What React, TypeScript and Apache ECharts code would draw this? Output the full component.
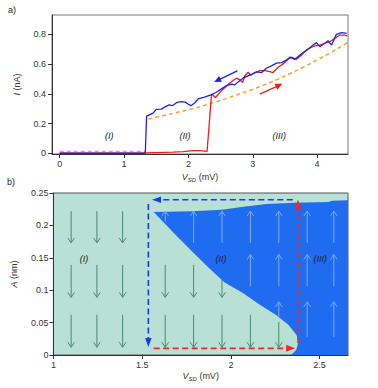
import React, { useEffect, useRef } from 'react';
import * as echarts from 'echarts';

// ---------- Panel a) data ----------
const topXTicks = [0, 1, 2, 3, 4];
const topYTicks = [0, 0.2, 0.4, 0.6, 0.8];

const blueSweep: number[][] = [
  [0, 0.0], [1.33, 0.0], [1.35, 0.25], [1.4, 0.26], [1.45, 0.27], [1.5, 0.295], [1.58, 0.297],
  [1.63, 0.31], [1.7, 0.325], [1.75, 0.32], [1.82, 0.342], [1.89, 0.348], [1.95, 0.344],
  [2.0, 0.33], [2.04, 0.32], [2.1, 0.34], [2.15, 0.365], [2.25, 0.378], [2.36, 0.395],
  [2.44, 0.412], [2.52, 0.435], [2.59, 0.455], [2.67, 0.465], [2.72, 0.46], [2.8, 0.49],
  [2.85, 0.505], [2.9, 0.515], [2.98, 0.53], [3.06, 0.547], [3.14, 0.543], [3.21, 0.572],
  [3.29, 0.588], [3.37, 0.606], [3.45, 0.61], [3.525, 0.628], [3.576, 0.646], [3.654, 0.632],
  [3.705, 0.65], [3.783, 0.677], [3.86, 0.7], [3.938, 0.728], [3.99, 0.744], [4.042, 0.717],
  [4.12, 0.74], [4.171, 0.757], [4.224, 0.728], [4.3, 0.8], [4.379, 0.811], [4.46, 0.807],
];

const redSweep: number[][] = [
  [0, 0.0], [1.33, 0.002], [1.76, 0.007], [1.92, 0.011], [2.07, 0.018], [2.18, 0.018],
  [2.29, 0.013], [2.36, 0.398], [2.42, 0.375], [2.49, 0.41], [2.567, 0.442], [2.644, 0.472],
  [2.71, 0.494], [2.748, 0.505], [2.8, 0.494], [2.842, 0.476], [2.877, 0.52], [2.93, 0.545],
  [2.97, 0.525], [3.033, 0.543], [3.11, 0.556], [3.188, 0.556], [3.266, 0.549], [3.317, 0.543],
  [3.395, 0.579], [3.472, 0.601], [3.55, 0.632], [3.602, 0.646], [3.68, 0.632], [3.758, 0.661],
  [3.835, 0.695], [3.913, 0.713], [3.964, 0.722], [4.042, 0.728], [4.12, 0.74], [4.197, 0.75],
  [4.275, 0.773], [4.352, 0.795], [4.43, 0.795], [4.466, 0.789],
];

const fitLow: number[][] = [[0, 0.012], [1.33, 0.012]];
const fitHigh: number[][] = [
  [1.38, 0.23], [1.6, 0.252], [1.8, 0.272], [2.0, 0.293], [2.2, 0.316], [2.4, 0.342],
  [2.6, 0.37], [2.8, 0.4], [3.0, 0.43], [3.2, 0.463], [3.4, 0.5], [3.6, 0.54], [3.8, 0.582],
  [4.0, 0.628], [4.2, 0.675], [4.4, 0.725], [4.48, 0.748],
];

// sweep direction arrows [x1, y1, x2, y2]
const topBlueArrow: number[][] = [[2.76, 0.554, 2.4, 0.48]];
const topRedArrow: number[][] = [[3.11, 0.398, 3.46, 0.467]];
const topRegionLabels: (number | string)[][] = [[0.77, 0.119, '(I)'], [1.946, 0.119, '(II)'], [3.41, 0.119, '(III)']];

// ---------- Panel b) data ----------
const botXTicks = [1, 1.5, 2, 2.5];
const bistableRegion: number[][] = [
  [1.565, 0.2206], [1.78, 0.222], [1.95, 0.224], [2.05, 0.228], [2.2, 0.233], [2.36, 0.235],
  [2.55, 0.236], [2.57, 0.238], [2.66, 0.239], [2.66, 0], [2.34, 0], [2.368, 0.0077],
  [2.381, 0.0206], [2.37, 0.031], [2.325, 0.0464], [2.255, 0.0618], [2.165, 0.0773],
  [2.07, 0.0954], [1.965, 0.112], [1.878, 0.134], [1.782, 0.1597], [1.688, 0.1855],
];

// quiver arrows [x, yTail, yHead]
const decayArrows: number[][] = [
  [1.1, 0.222, 0.173], [1.245, 0.222, 0.173], [1.39, 0.222, 0.173],
  [1.1, 0.139, 0.089], [1.245, 0.139, 0.089], [1.39, 0.139, 0.089], [1.63, 0.139, 0.089],
  [1.79, 0.139, 0.089], [1.95, 0.116, 0.089],
  [1.1, 0.062, 0.012], [1.245, 0.062, 0.012], [1.39, 0.062, 0.012], [1.63, 0.062, 0.012],
  [1.79, 0.062, 0.012], [1.95, 0.062, 0.012], [2.11, 0.062, 0.012], [2.27, 0.051, 0.012],
];
const growArrows: number[][] = [
  [1.63, 0.206, 0.222], [1.79, 0.173, 0.222], [1.95, 0.173, 0.222], [2.11, 0.173, 0.222],
  [2.27, 0.173, 0.222], [2.43, 0.173, 0.222], [2.58, 0.173, 0.222],
  [2.11, 0.106, 0.155], [2.27, 0.106, 0.155], [2.43, 0.106, 0.155], [2.58, 0.106, 0.155],
  [2.27, 0.059, 0.082], [2.43, 0.028, 0.082], [2.58, 0.028, 0.082],
];
// hysteresis path arrows [x1, y1, x2, y2]
const backwardPath: number[][] = [[2.349, 0.2395, 1.556, 0.2395], [1.535, 0.233, 1.535, 0.0125]];
const forwardPath: number[][] = [[1.565, 0.0103, 2.362, 0.0103], [2.378, 0.018, 2.378, 0.2395]];
const botRegionLabels: (number | string)[][] = [[1.173, 0.148, '(I)'], [1.944, 0.148, '(II)'], [2.504, 0.148, '(III)']];

const FONT = '"Liberation Sans", Arial, Helvetica, sans-serif';

function arrowRender(color: string, width: number, dash: number[] | null, headLen: number, headHalf: number) {
  return (params: any, api: any) => {
    const p1 = api.coord([api.value(0), api.value(1)]);
    const p2 = api.coord([api.value(2), api.value(3)]);
    const dx = p2[0] - p1[0];
    const dy = p2[1] - p1[1];
    const L = Math.hypot(dx, dy) || 1;
    const ux = dx / L, uy = dy / L;
    const bx = p2[0] - ux * headLen, by = p2[1] - uy * headLen;
    const nx = -uy, ny = ux;
    return {
      type: 'group',
      children: [
        {
          type: 'line',
          shape: { x1: p1[0], y1: p1[1], x2: bx + ux * 1, y2: by + uy * 1 },
          style: { stroke: color, lineWidth: width, lineDash: dash || undefined, fill: null },
        },
        {
          type: 'polygon',
          shape: { points: [[p2[0], p2[1]], [bx + nx * headHalf, by + ny * headHalf], [bx - nx * headHalf, by - ny * headHalf]] },
          style: { fill: color, stroke: null },
        },
      ],
    };
  };
}

function quiverRender(color: string) {
  return (params: any, api: any) => {
    const x = api.value(0);
    const p1 = api.coord([x, api.value(1)]);
    const p2 = api.coord([x, api.value(2)]);
    const dir = p2[1] > p1[1] ? 1 : -1;
    const hl = 5, hw = 3.4;
    return {
      type: 'group',
      children: [
        { type: 'line', shape: { x1: p1[0], y1: p1[1], x2: p2[0], y2: p2[1] }, style: { stroke: color, lineWidth: 1 } },
        {
          type: 'polyline',
          shape: { points: [[p2[0] - hw, p2[1] - dir * hl], [p2[0], p2[1]], [p2[0] + hw, p2[1] - dir * hl]] },
          style: { stroke: color, lineWidth: 1, fill: null },
        },
      ],
    };
  };
}

function labelRender(labels: (number | string)[][]) {
  return (params: any, api: any) => {
    const row = labels[params.dataIndex];
    const p = api.coord([row[0] as number, row[1] as number]);
    return {
      type: 'text',
      x: p[0],
      y: p[1],
      style: {
        text: row[2] as string,
        fill: '#222',
        fontSize: 9,
        fontStyle: 'italic',
        fontFamily: FONT,
        align: 'center',
        verticalAlign: 'middle',
      },
    };
  };
}

const nameStyle = {
  fontSize: 9,
  color: '#333',
  fontFamily: FONT,
  lineHeight: 12,
  rich: {
    v: { fontStyle: 'italic', fontSize: 9, lineHeight: 12, fontFamily: FONT, color: '#333' },
    s: { fontStyle: 'italic', fontSize: 6, lineHeight: 12, verticalAlign: 'bottom', fontFamily: FONT, color: '#333' },
  },
};

export default function App() {
  const ref = useRef<HTMLDivElement>(null);
  useEffect(() => {
    if (!ref.current) return;
    const chart = echarts.init(ref.current, undefined, { renderer: 'svg' });
    const axisCommon = {
      axisLine: { show: true, onZero: false, lineStyle: { color: '#333', width: 1 } },
      splitLine: { show: false },
    };
    chart.setOption({
      animation: false,
      backgroundColor: '#fff',
      textStyle: { fontFamily: FONT },
      grid: [
        { left: 52, right: 30, top: 15, height: 139, show: true, borderColor: '#777', borderWidth: 1, backgroundColor: '#fff' },
        { left: 51, right: 30, top: 193, height: 162, show: true, borderColor: '#555', borderWidth: 1, backgroundColor: '#b9e0d4' },
      ],
      xAxis: [
        {
          ...axisCommon,
          gridIndex: 0, type: 'value', min: -0.12, max: 4.48,
          axisTick: { show: true, customValues: topXTicks, length: 4, lineStyle: { color: '#333' } },
          axisLabel: { customValues: topXTicks, fontSize: 9, color: '#333', margin: 5, fontFamily: FONT },
          name: '{v|V}{s|SD} (mV)', nameLocation: 'middle', nameGap: 17, nameTextStyle: nameStyle,
        },
        {
          ...axisCommon,
          gridIndex: 1, type: 'value', min: 1, max: 2.66, interval: 0.5,
          axisTick: { show: true, customValues: botXTicks, length: 4, lineStyle: { color: '#333' } },
          axisLabel: { customValues: botXTicks, fontSize: 9, color: '#333', margin: 5, fontFamily: FONT },
          name: '{v|V}{s|SD} (mV)', nameLocation: 'middle', nameGap: 12, nameTextStyle: nameStyle,
        },
      ],
      yAxis: [
        {
          ...axisCommon,
          gridIndex: 0, type: 'value', min: -0.005, max: 0.93,
          axisTick: { show: true, customValues: topYTicks, length: 4, lineStyle: { color: '#333' } },
          axisLabel: { customValues: topYTicks, fontSize: 9, color: '#333', margin: 6, fontFamily: FONT },
          name: '{v|I} (nA)', nameLocation: 'middle', nameGap: 26, nameTextStyle: nameStyle,
        },
        {
          ...axisCommon,
          gridIndex: 1, type: 'value', min: 0, max: 0.25, interval: 0.05,
          axisTick: { show: true, length: 4, lineStyle: { color: '#333' } },
          axisLabel: { fontSize: 9, color: '#333', margin: 5, fontFamily: FONT },
          name: '{v|A} (nm)', nameLocation: 'middle', nameGap: 28, nameTextStyle: nameStyle,
        },
      ],
      series: [
        // panel a
        {
          type: 'line', xAxisIndex: 0, yAxisIndex: 0, data: fitLow, showSymbol: false, symbol: 'none',
          lineStyle: { color: '#f7a03c', width: 1.5, type: [4, 3] }, z: 3,
        },
        {
          type: 'line', xAxisIndex: 0, yAxisIndex: 0, data: fitHigh, showSymbol: false, symbol: 'none', smooth: true,
          lineStyle: { color: '#f7a03c', width: 1.5, type: [4, 3] }, z: 3,
        },
        {
          type: 'line', xAxisIndex: 0, yAxisIndex: 0, data: redSweep, showSymbol: false, symbol: 'none',
          lineStyle: { color: '#f21c1c', width: 1.3 }, z: 4,
        },
        {
          type: 'line', xAxisIndex: 0, yAxisIndex: 0, data: blueSweep, showSymbol: false, symbol: 'none',
          lineStyle: { color: '#1c22f0', width: 1.3 }, z: 5,
        },
        {
          type: 'custom', xAxisIndex: 0, yAxisIndex: 0, data: topBlueArrow, renderItem: arrowRender('#1c22f0', 1.3, null, 7, 3.2), z: 6,
        },
        {
          type: 'custom', xAxisIndex: 0, yAxisIndex: 0, data: topRedArrow, renderItem: arrowRender('#f21c1c', 1.3, null, 7, 3.2), z: 6,
        },
        {
          type: 'custom', xAxisIndex: 0, yAxisIndex: 0, data: topRegionLabels.map((r) => [r[0], r[1]]), renderItem: labelRender(topRegionLabels), z: 6,
        },
        // panel b
        {
          type: 'custom', xAxisIndex: 1, yAxisIndex: 1, data: [bistableRegion[0]], clip: true, z: 2,
          renderItem: (params: any, api: any) => ({
            type: 'polygon',
            shape: { points: bistableRegion.map((p) => api.coord(p)) },
            style: { fill: '#1f6cf0', stroke: null },
          }),
        },
        {
          type: 'custom', xAxisIndex: 1, yAxisIndex: 1, data: decayArrows, renderItem: quiverRender('#4a8a72'), z: 3,
        },
        {
          type: 'custom', xAxisIndex: 1, yAxisIndex: 1, data: growArrows, renderItem: quiverRender('#7aaaf4'), z: 3,
        },
        {
          type: 'custom', xAxisIndex: 1, yAxisIndex: 1, data: backwardPath, renderItem: arrowRender('#1a3ce6', 1.6, [6, 3.5], 9, 3.2), z: 5,
        },
        {
          type: 'custom', xAxisIndex: 1, yAxisIndex: 1, data: forwardPath, renderItem: arrowRender('#f02828', 1.6, [6, 3.5], 9, 3.5), z: 5,
        },
        {
          type: 'custom', xAxisIndex: 1, yAxisIndex: 1, data: botRegionLabels.map((r) => [r[0], r[1]]), renderItem: labelRender(botRegionLabels), z: 6,
        },
      ],
      graphic: [
        { type: 'text', left: 8, top: 5, style: { text: 'a)', fontSize: 9, fill: '#222', fontFamily: FONT } },
        { type: 'text', left: 7, top: 177, style: { text: 'b)', fontSize: 9, fill: '#222', fontFamily: FONT } },
      ],
    });
    return () => chart.dispose();
  }, []);
  return <div ref={ref} style={{ width: 378, height: 388, position: 'absolute', left: 0, top: 0 }} />;
}
